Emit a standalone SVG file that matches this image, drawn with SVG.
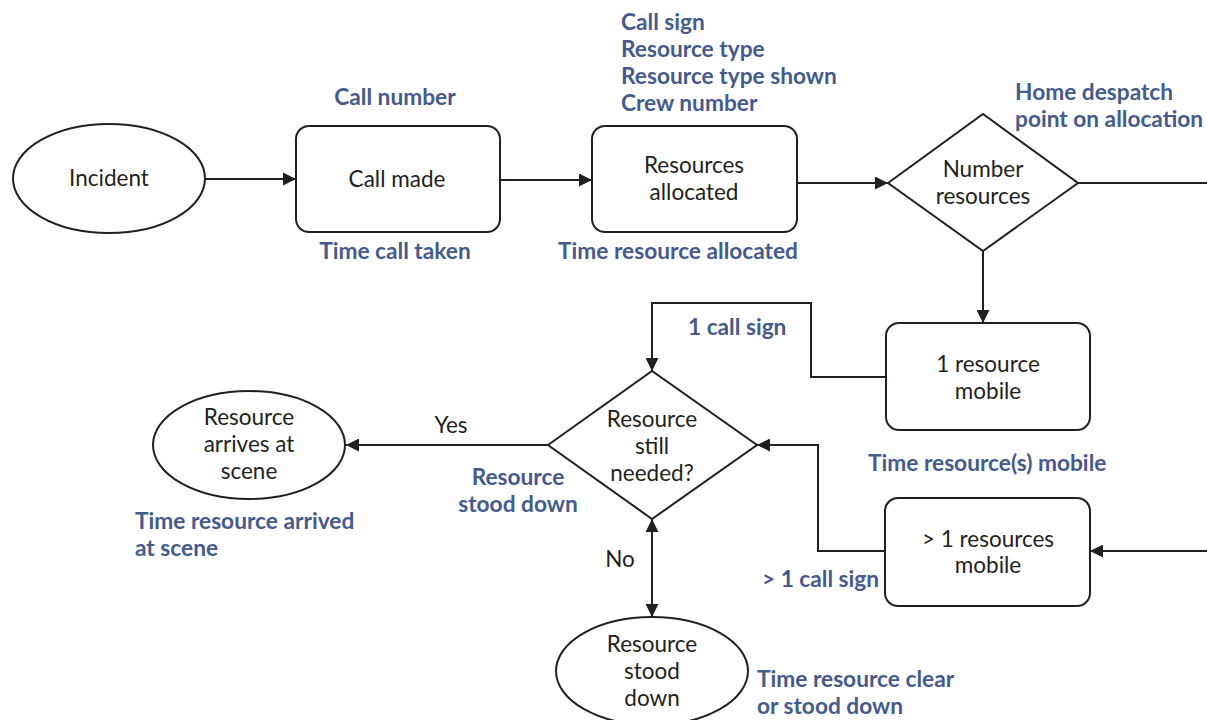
<svg xmlns="http://www.w3.org/2000/svg" width="1207" height="720" viewBox="0 0 1207 720">
  <defs>
    <marker id="arrow" viewBox="0 0 13 13" refX="13" refY="6.5" markerWidth="13" markerHeight="13" markerUnits="userSpaceOnUse" orient="auto-start-reverse">
      <path d="M0,0 L13,6.5 L0,13 Z" fill="#231f20"/>
    </marker>
  </defs>
  <style>
    .shape { fill: #ffffff; stroke: #231f20; stroke-width: 2; }
    .line { fill: none; stroke: #231f20; stroke-width: 2; }
    .label { font-family: Lato, "Liberation Sans", sans-serif; font-size: 22.5px; fill: #231f20; text-anchor: middle; }
    .note { font-family: Lato, "Liberation Sans", sans-serif; font-size: 22.7px; font-weight: bold; fill: #465a8c; }
    .mid { text-anchor: middle; }
  </style>
  <rect width="1207" height="720" fill="#ffffff"/>

  <!-- connectors -->
  <g id="connectors">
    <line class="line" x1="205" y1="179" x2="296" y2="179" marker-end="url(#arrow)"/>
    <line class="line" x1="500" y1="180" x2="592" y2="180" marker-end="url(#arrow)"/>
    <line class="line" x1="797" y1="183" x2="888" y2="183" marker-end="url(#arrow)"/>
    <line class="line" x1="1078" y1="183" x2="1207" y2="183"/>
    <line class="line" x1="983" y1="251" x2="983" y2="323" marker-end="url(#arrow)"/>
    <polyline class="line" points="886,377 811,377 811,303 652,303 652,371" marker-end="url(#arrow)"/>
    <polyline class="line" points="885,551 818,551 818,445 757,445" marker-end="url(#arrow)"/>
    <line class="line" x1="1207" y1="551" x2="1090" y2="551" marker-end="url(#arrow)"/>
    <line class="line" x1="548" y1="445" x2="346" y2="445" marker-end="url(#arrow)"/>
    <line class="line" x1="652" y1="519" x2="652" y2="617" marker-start="url(#arrow)" marker-end="url(#arrow)"/>
    <text class="label" x="451" y="433">Yes</text>
    <text class="label" x="620" y="567">No</text>
  </g>

  <g id="incident">
    <ellipse class="shape" cx="109" cy="178.5" rx="96" ry="54.5"/>
    <text class="label" x="109" y="186">Incident</text>
  </g>

  <g id="call-made">
    <rect class="shape" x="296" y="126" width="204" height="106" rx="13"/>
    <text class="label" x="397" y="187">Call made</text>
  </g>

  <g id="resources-allocated">
    <rect class="shape" x="592" y="126" width="205" height="106" rx="13"/>
    <text class="label" x="694" y="173">Resources</text>
    <text class="label" x="694" y="200">allocated</text>
  </g>

  <g id="number-resources">
    <polygon class="shape" points="888,183 983,114 1078,183 983,251"/>
    <text class="label" x="983" y="177">Number</text>
    <text class="label" x="983" y="204">resources</text>
  </g>

  <g id="one-resource-mobile">
    <rect class="shape" x="886" y="323" width="204" height="107" rx="13"/>
    <text class="label" x="988" y="372">1 resource</text>
    <text class="label" x="988" y="399">mobile</text>
  </g>

  <g id="many-resources-mobile">
    <rect class="shape" x="885" y="498" width="205" height="108" rx="13"/>
    <text class="label" x="988" y="547">&gt; 1 resources</text>
    <text class="label" x="988" y="573">mobile</text>
  </g>

  <g id="still-needed">
    <polygon class="shape" points="548,445 652,371 757,445 652,519"/>
    <text class="label" x="652" y="427">Resource</text>
    <text class="label" x="652" y="454">still</text>
    <text class="label" x="652" y="481">needed?</text>
  </g>

  <g id="arrives-at-scene">
    <ellipse class="shape" cx="249" cy="445" rx="96" ry="54"/>
    <text class="label" x="249" y="425">Resource</text>
    <text class="label" x="249" y="452">arrives at</text>
    <text class="label" x="249" y="479">scene</text>
  </g>

  <g id="stood-down">
    <ellipse class="shape" cx="652" cy="671" rx="96" ry="54"/>
    <text class="label" x="652" y="652">Resource</text>
    <text class="label" x="652" y="679">stood</text>
    <text class="label" x="652" y="706">down</text>
  </g>

  <!-- data items recorded at each step -->
  <g id="notes">
    <text class="note mid" x="395" y="105">Call number</text>
    <text class="note mid" x="395" y="259">Time call taken</text>
    <text class="note" x="621" y="30">Call sign</text>
    <text class="note" x="621" y="57">Resource type</text>
    <text class="note" x="621" y="84">Resource type shown</text>
    <text class="note" x="621" y="111">Crew number</text>
    <text class="note mid" x="678" y="259">Time resource allocated</text>
    <text class="note" x="1015" y="100">Home despatch</text>
    <text class="note" x="1015" y="127">point on allocation</text>
    <text class="note" x="688" y="335">1 call sign</text>
    <text class="note" x="868" y="471">Time resource(s) mobile</text>
    <text class="note mid" x="518" y="485">Resource</text>
    <text class="note mid" x="518" y="512">stood down</text>
    <text class="note" x="135" y="529">Time resource arrived</text>
    <text class="note" x="135" y="556">at scene</text>
    <text class="note" x="762" y="587">&gt; 1 call sign</text>
    <text class="note" x="757" y="687">Time resource clear</text>
    <text class="note" x="757" y="714">or stood down</text>
  </g>
</svg>
